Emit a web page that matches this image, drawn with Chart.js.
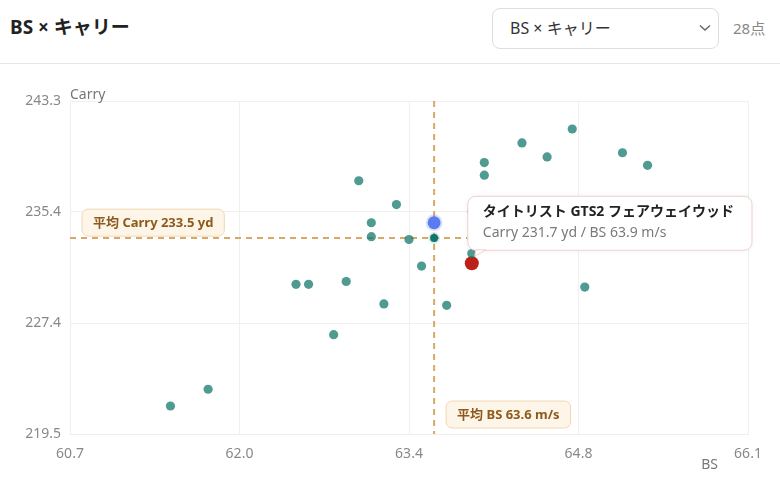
<!DOCTYPE html>
<html lang="ja">
<head>
<meta charset="utf-8">
<script src="https://cdn.jsdelivr.net/npm/chart.js"></script>
<style>
  html, body { margin: 0; padding: 0; background: #fff; }
  body { width: 780px; height: 494px; overflow: hidden; font-family: "Noto Sans", "Noto Sans CJK JP", sans-serif; }
  .head { position: relative; height: 63px; border-bottom: 1px solid #e6e6e6; }
  .title { position: absolute; left: 10px; top: 12px; font-size: 19px; font-weight: 700; color: #222; }
  .select { position: absolute; left: 492px; top: 8px; width: 227px; height: 41px; box-sizing: border-box;
            border: 1px solid #dedede; border-radius: 8px; font-size: 16px; color: #333; line-height: 38px; padding-left: 17px; }
  .chev { position: absolute; right: 7px; top: 15px; }
  .count { position: absolute; left: 733px; top: 17px; font-size: 15px; color: #888; }
  .wrap { position: relative; width: 780px; height: 430px; }
</style>
</head>
<body>
<div class="head">
  <div class="title">BS × キャリー</div>
  <div class="select">BS × キャリー
    <svg class="chev" width="12" height="8" viewBox="0 0 12 8"><path d="M1 1.5 L6 6 L11 1.5" fill="none" stroke="#666" stroke-width="1.4"/></svg>
  </div>
  <div class="count">28点</div>
</div>
<div class="wrap"><canvas id="scatter"></canvas></div>
<script>
// club data: ball speed (m/s) and carry (yd)
const bsValues = [61.5, 61.8, 62.5, 62.6, 62.9, 62.8, 63.2, 63.5, 63.7, 63.0, 63.3, 63.1, 63.1, 63.4,
                  63.9, 64.0, 64.0, 64.3, 64.5, 64.7, 65.1, 65.3, 64.8, 63.9];
const carryValues = [221.5, 222.7, 230.2, 230.2, 230.4, 226.6, 228.8, 231.5, 228.7, 237.6, 235.9, 234.6, 233.6, 233.4,
                     232.4, 238.9, 238.0, 240.3, 239.3, 241.3, 239.6, 238.7, 230.0, 235.4];
const selectedBs = [63.6];
const selectedCarry = [234.6];
const hoveredBs = [63.9];
const hoveredCarry = [231.7];
const hoveredName = "タイトリスト GTS2 フェアウェイウッド";
const avgBs = 63.6;
const avgCarry = 233.5;

const xTickValues = [60.7, 62.05, 63.4, 64.75, 66.1];
const xTickLabels = ["60.7", "62.0", "63.4", "64.8", "66.1"];
const yTickValues = [219.5, 227.4333, 235.3667, 243.3];
const yTickLabels = ["219.5", "227.4", "235.4", "243.3"];

const FONT = '"Noto Sans", "Noto Sans CJK JP", sans-serif';

const toPoints = (xs, ys) => xs.map((x, i) => ({ x: x, y: ys[i] }));

function roundRect(ctx, x, y, w, h, r) {
  ctx.beginPath();
  ctx.moveTo(x + r, y);
  ctx.arcTo(x + w, y, x + w, y + h, r);
  ctx.arcTo(x + w, y + h, x, y + h, r);
  ctx.arcTo(x, y + h, x, y, r);
  ctx.arcTo(x, y, x + w, y, r);
  ctx.closePath();
}

function avgLabel(ctx, text, x, y) {
  ctx.font = "bold 13px " + FONT;
  const w = ctx.measureText(text).width + 22;
  roundRect(ctx, x, y, w, 27, 6);
  ctx.fillStyle = "#fdf5e8";
  ctx.fill();
  ctx.strokeStyle = "#efd8b4";
  ctx.lineWidth = 1;
  ctx.stroke();
  ctx.fillStyle = "#8e5a1c";
  ctx.textAlign = "left";
  ctx.textBaseline = "middle";
  ctx.fillText(text, x + 11, y + 14);
}

const overlay = {
  id: "overlay",
  beforeDatasetsDraw(chart) {
    const { ctx, chartArea, scales } = chart;
    const xl = scales.x.getPixelForValue(avgBs);
    const yl = scales.y.getPixelForValue(avgCarry);
    ctx.save();
    ctx.strokeStyle = "#d8a866";
    ctx.lineWidth = 2;
    ctx.setLineDash([6, 5]);
    ctx.beginPath();
    ctx.moveTo(xl, chartArea.top);
    ctx.lineTo(xl, chartArea.bottom);
    ctx.moveTo(chartArea.left, yl);
    ctx.lineTo(chartArea.right, yl);
    ctx.stroke();
    ctx.restore();
  },
  afterDraw(chart) {
    const { ctx, chartArea, scales } = chart;
    const xl = scales.x.getPixelForValue(avgBs);
    const yl = scales.y.getPixelForValue(avgCarry);
    ctx.save();
    // axis titles
    ctx.font = "14px " + FONT;
    ctx.fillStyle = "#777";
    ctx.textBaseline = "middle";
    ctx.textAlign = "left";
    ctx.fillText("Carry", chartArea.left, chartArea.top - 6);
    ctx.textAlign = "right";
    ctx.fillText("BS", chartArea.right - 30, chartArea.bottom + 31);

    // average labels
    avgLabel(ctx, "平均 Carry " + avgCarry.toFixed(1) + " yd", chartArea.left + 12, yl - 29);
    avgLabel(ctx, "平均 BS " + avgBs.toFixed(1) + " m/s", xl + 12, chartArea.bottom - 33);

    // tooltip for the hovered club
    const pt = chart.getDatasetMeta(3).data[0];
    const title = hoveredName;
    const body = "Carry " + hoveredCarry[0].toFixed(1) + " yd / BS " + hoveredBs[0].toFixed(1) + " m/s";
    ctx.font = "bold 14px " + FONT;
    const tw = ctx.measureText(title).width;
    ctx.font = "14px " + FONT;
    const bw = ctx.measureText(body).width;
    const w = Math.max(tw, bw) + 33;
    const h = 54;
    const left = pt.x - 4;
    const top = pt.y - 13 - h;
    ctx.shadowColor = "rgba(0,0,0,0.06)";
    ctx.shadowBlur = 6;
    roundRect(ctx, left, top, w, h, 8);
    ctx.fillStyle = "#fff";
    ctx.fill();
    ctx.shadowColor = "transparent";
    ctx.strokeStyle = "#f1cfcf";
    ctx.lineWidth = 1;
    ctx.stroke();
    ctx.beginPath();
    ctx.moveTo(left + 8, top + h - 0.5);
    ctx.lineTo(left + 18, top + h - 0.5);
    ctx.lineTo(left + 7, top + h + 6);
    ctx.closePath();
    ctx.fillStyle = "#fff";
    ctx.fill();
    ctx.strokeStyle = "#f1cfcf";
    ctx.stroke();
    ctx.fillStyle = "#222";
    ctx.textAlign = "left";
    ctx.textBaseline = "middle";
    ctx.font = "bold 14px " + FONT;
    ctx.fillText(title, left + 15, top + 16);
    ctx.fillStyle = "#7a7a7a";
    ctx.font = "14px " + FONT;
    ctx.fillText(body, left + 15, top + 37);
    ctx.restore();
  }
};

new Chart("scatter", {
  type: "scatter",
  data: {
    datasets: [
      {
        label: "clubs",
        data: toPoints(bsValues, carryValues),
        backgroundColor: "rgba(20,120,108,0.75)",
        borderWidth: 0,
        pointRadius: 4.6
      },
      {
        label: "average",
        data: [{ x: avgBs, y: avgCarry }],
        backgroundColor: "#0f766e",
        borderColor: "rgba(15,118,110,0.15)",
        borderWidth: 4,
        pointRadius: 4
      },
      {
        label: "selected",
        data: toPoints(selectedBs, selectedCarry),
        backgroundColor: "#5b7cf0",
        borderColor: "rgba(91,124,240,0.22)",
        borderWidth: 4,
        pointRadius: 6.5
      },
      {
        label: "hovered",
        data: toPoints(hoveredBs, hoveredCarry),
        backgroundColor: "#bb2116",
        borderWidth: 0,
        pointRadius: 7
      }
    ]
  },
  options: {
    responsive: true,
    maintainAspectRatio: false,
    animation: false,
    events: [],
    layout: { padding: { top: 37, right: 32, bottom: 0, left: 0 } },
    plugins: {
      legend: { display: false },
      tooltip: { enabled: false }
    },
    scales: {
      x: {
        type: "linear",
        min: 60.7,
        max: 66.1,
        afterFit: s => { s.height = 60; },
        afterBuildTicks: s => { s.ticks = xTickValues.map(v => ({ value: v })); },
        ticks: {
          padding: 12,
          color: "#888",
          font: { size: 14, family: FONT },
          callback: (v, i) => xTickLabels[i]
        },
        grid: { color: "#f0f0f0", drawTicks: false },
        border: { color: "#eeeeee" }
      },
      y: {
        type: "linear",
        min: 219.5,
        max: 243.3,
        afterFit: s => { s.width = 70; },
        afterBuildTicks: s => { s.ticks = yTickValues.map(v => ({ value: v })); },
        ticks: {
          padding: 9,
          color: "#888",
          font: { size: 14, family: FONT },
          callback: (v, i) => yTickLabels[i]
        },
        grid: { color: "#f0f0f0", drawTicks: false },
        border: { color: "#eeeeee" }
      }
    }
  },
  plugins: [overlay]
});
</script>
</body>
</html>
